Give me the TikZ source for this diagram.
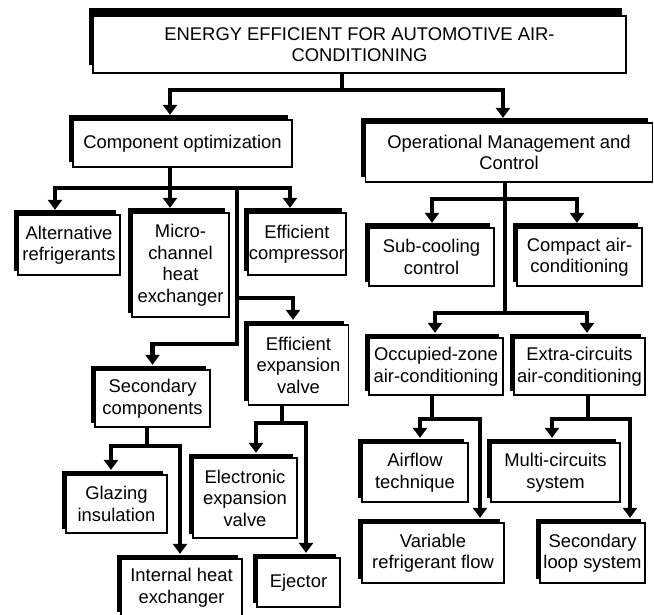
\documentclass[tikz,border=0pt]{standalone}
\usepackage{fontspec}
\setmainfont{Liberation Sans}
\usetikzlibrary{arrows.meta,shadows}

\begin{document}
\begin{tikzpicture}[x=1pt,y=-1pt,
    box/.style={draw,line width=1.3pt,fill=white,align=center,inner sep=0pt,
      font=\fontsize{18.4}{21.5}\selectfont,
      general shadow={fill=black,shadow xshift=-4.5pt,shadow yshift=#1}},
    box/.default=4.5pt,
    link/.style={line width=4.2pt,-{Triangle[width=14pt,length=10pt]},shorten >=4.5pt}]
  \useasboundingbox (0,0) rectangle (654,615);

  \node[box=8pt,minimum width=533pt,minimum height=57pt](title) at (359.5,44.5){ENERGY EFFICIENT FOR AUTOMOTIVE AIR-\\CONDITIONING};
  \node[box,minimum width=219pt,minimum height=47pt](comp) at (182.5,143.5){Component optimization};
  \node[box,minimum width=287pt,minimum height=59pt](oper) at (509,152.5){Operational Management and\\Control};

  \node[box,minimum width=102pt,minimum height=60pt](alt) at (69,245){Alternative\\refrigerants};
  \node[box,minimum width=97pt,minimum height=104pt](micro) at (180.5,265){Micro-\\channel\\heat\\exchanger};
  \node[box,minimum width=98pt,minimum height=62pt](effcomp) at (297,244){Efficient\\compressor};
  \node[box,minimum width=100pt,minimum height=80pt](expv) at (298.5,365){Efficient\\expansion\\valve};
  \node[box,minimum width=115pt,minimum height=57pt](seccomp) at (152.5,398.5){Secondary\\components};
  \node[box,minimum width=101pt,minimum height=58pt](glaz) at (116.5,504){Glazing\\insulation};
  \node[box,minimum width=121pt,minimum height=57pt](ihx) at (181.5,587.5){Internal heat\\exchanger};
  \node[box,minimum width=104pt,minimum height=80pt](eev) at (245,498){Electronic\\expansion\\valve};
  \node[box,minimum width=83pt,minimum height=49pt](eject) at (298.5,582.5){Ejector};

  \node[box,minimum width=125pt,minimum height=58pt](subc) at (431.5,257){Sub-cooling\\control};
  \node[box,minimum width=125pt,minimum height=58pt](compact) at (579.5,257){Compact air-\\conditioning};
  \node[box,minimum width=134pt,minimum height=57pt](occ) at (436,366.5){Occupied-zone\\air-conditioning};
  \node[box,minimum width=131pt,minimum height=57pt](extra) at (579.5,366.5){Extra-circuits\\air-conditioning};
  \node[box,minimum width=106pt,minimum height=59pt](airflow) at (415,472.5){Airflow\\technique};
  \node[box,minimum width=142pt,minimum height=60pt](vrf) at (433,553){Variable\\refrigerant flow};
  \node[box,minimum width=129pt,minimum height=59pt](multi) at (555.5,472.5){Multi-circuits\\system};
  \node[box,minimum width=105pt,minimum height=60pt](secloop) at (592.5,553){Secondary\\loop system};

  \draw[link] ([xshift=-17.5pt]title.south) -- ++(0,16) -| ([xshift=-12.5pt]comp.north);
  \draw[link] ([xshift=-17.5pt]title.south) -- ++(0,16) -| ([xshift=-6pt]oper.north);

  \draw[link] ([xshift=-12.5pt]comp.south) -- ++(0,20) -| ([xshift=-14pt]alt.north);
  \draw[link] ([xshift=-12.5pt]comp.south) -- ([xshift=-10.5pt]micro.north);
  \draw[link] ([xshift=-12.5pt]comp.south) -- ++(0,20) -| ([xshift=-7pt]effcomp.north);
  \draw[link] ([xshift=-12.5pt]comp.south) -- ++(0,20) -| ++(67,110) -| ([xshift=-5.5pt]expv.north);
  \draw[link] ([xshift=-12.5pt]comp.south) -- ++(0,20) -| ++(67,156) -| (seccomp.north);
  \draw[link] ([xshift=-5.5pt]seccomp.south) -- ++(0,18) -| ([xshift=-5.5pt]glaz.north);
  \draw[link] ([xshift=-5.5pt]seccomp.south) -- ++(0,18) -| ([xshift=-1.5pt]ihx.north);
  \draw[link] ([xshift=-16.5pt]expv.south) -- ++(0,17) -| ([xshift=11pt]eev.north);
  \draw[link] ([xshift=-16.5pt]expv.south) -- ++(0,17) -| ([xshift=7.5pt]eject.north);

  \draw[link] ([xshift=-4pt]oper.south) -- ++(0,16) -| ([xshift=0.5pt]subc.north);
  \draw[link] ([xshift=-4pt]oper.south) -- ++(0,16) -| ([xshift=-2.5pt]compact.north);
  \draw[link] ([xshift=-4pt]oper.south) -- ++(0,130) -| ([xshift=-1pt]occ.north);
  \draw[link] ([xshift=-4pt]oper.south) -- ++(0,130) -| ([xshift=7.5pt]extra.north);
  \draw[link] ([xshift=-4pt]occ.south) -- ++(0,23) -| ([xshift=5pt]airflow.north);
  \draw[link] ([xshift=-4pt]occ.south) -- ++(0,23) -| ([xshift=47pt]vrf.north);
  \draw[link] ([xshift=8.5pt]extra.south) -- ++(0,23) -| ([xshift=-3.5pt]multi.north);
  \draw[link] ([xshift=8.5pt]extra.south) -- ++(0,23) -| ([xshift=37.5pt]secloop.north);
\end{tikzpicture}
\end{document}
